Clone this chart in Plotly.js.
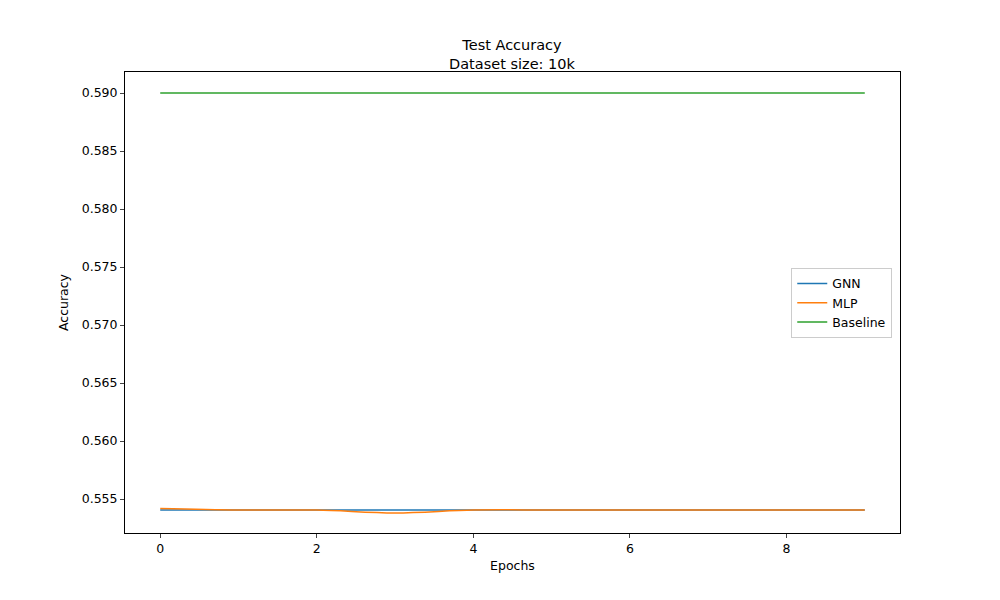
<!DOCTYPE html><html><head><script src="https://cdn.plot.ly/plotly-3.0.1.min.js"></script></head><body style="margin:0"><div id="c" style="width:1000px;height:600px"></div><script>
const epochs=[0,1,2,3,4,5,6,7,8,9];
const gnn=[0.55405,0.55405,0.55405,0.55405,0.55405,0.55405,0.55405,0.55405,0.55405,0.55405];
const mlp=[0.55418,0.55405,0.55405,0.55380,0.55405,0.55405,0.55405,0.55405,0.55405,0.55405];
const baseline=[0.59,0.59,0.59,0.59,0.59,0.59,0.59,0.59,0.59,0.59];
const yt=[0.555,0.56,0.565,0.57,0.575,0.58,0.585,0.59];
const f={family:"DejaVu Sans",size:12,color:"#000"};
Plotly.newPlot('c',[
{x:epochs,y:gnn,name:'GNN',mode:'lines',line:{color:'#1f77b4',width:1.5,shape:'spline'}},
{x:epochs,y:mlp,name:'MLP',mode:'lines',line:{color:'#ff7f0e',width:1.5,shape:'spline'}},
{x:epochs,y:baseline,name:'Baseline',mode:'lines',line:{color:'#2ca02c',width:1.5}}
],{width:1000,height:600,font:f,showlegend:true,paper_bgcolor:'#fff',plot_bgcolor:'#fff',
margin:{l:125,r:100,t:72,b:67},
title:{text:'Test Accuracy<br>Dataset size: 10k',x:0.512,xanchor:'center',y:0.917,yanchor:'middle',font:{family:"DejaVu Sans",size:14.5}},
xaxis:{range:[-0.45,9.45],tickvals:[0,2,4,6,8],showgrid:false,zeroline:false,showline:true,mirror:true,linecolor:'#000',ticks:'outside',ticklen:4,title:{text:'Epochs',standoff:6,font:{size:12.5}},tickfont:{size:12.5}},
yaxis:{range:[0.55207,0.59181],tickvals:yt,ticktext:yt.map(v=>v.toFixed(3)),showgrid:false,zeroline:false,showline:true,mirror:true,linecolor:'#000',ticks:'outside',ticklen:4,title:{text:'Accuracy',standoff:10,font:{size:12.5}},tickfont:{size:12.5}},
legend:{x:0.99,xanchor:'right',y:0.499,yanchor:'middle',bordercolor:'#ccc',borderwidth:1,bgcolor:'#fff',font:{size:12.5}}
},{displayModeBar:false});
</script></body></html>
